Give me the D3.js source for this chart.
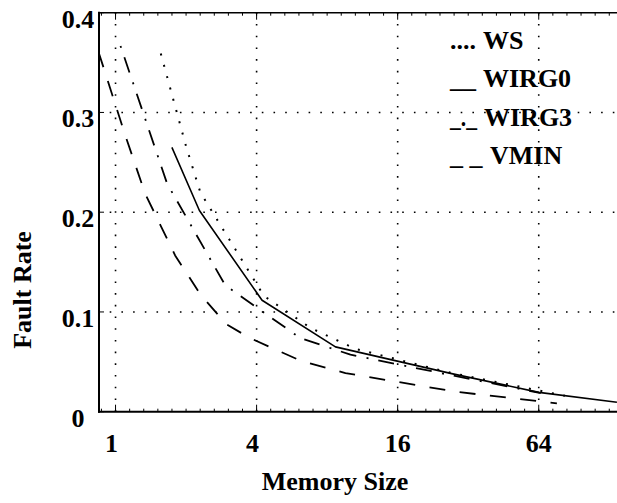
<!DOCTYPE html>
<html><head><meta charset="utf-8">
<script src="https://cdn.jsdelivr.net/npm/d3@7"></script>
<style>
html,body{margin:0;padding:0;background:#fff;}
text{font-family:"Liberation Serif","Times New Roman",serif;font-weight:bold;fill:#000;}
</style></head>
<body><svg id="c" width="617" height="503"></svg>
<script>
// ---- data ----
const seriesNames = ["WS", "WIRG0", "WIRG3", "VMIN"];
const legendSymbols = ["....", "__", "_._", "_ _"];
const wsX = [1.56, 2.0, 2.30, 4.30, 6.79, 10.57, 26.9, 82.8];
const wsY = [0.359, 0.266, 0.220, 0.116, 0.084, 0.063, 0.039, 0.016];
const wirg0X = [1.74, 2.28, 4.22, 8.68, 26.9, 64.1, 138];
const wirg0Y = [0.265, 0.2017, 0.1117, 0.065, 0.0384, 0.0194, 0.0094];
const wirg3X = [1.05, 1.66, 2.94, 6.15, 10.06, 26.9, 65.3];
const wirg3Y = [0.3667, 0.2287, 0.1267, 0.0737, 0.0572, 0.0367, 0.0187];
const vminX = [0.846, 1.098, 1.337, 1.796, 2.30, 2.968, 3.76, 6.15, 9.58, 28.3, 76.5];
const vminY = [0.3607, 0.2777, 0.2187, 0.1567, 0.1177, 0.0877, 0.0737, 0.0512, 0.0387, 0.020, 0.0084];
const xTicks = [1, 4, 16, 64];
const yTicks = [0, 0.1, 0.2, 0.3, 0.4];
const yTickLabels = ["0", "0.1", "0.2", "0.3", "0.4"];
const xDomain = [0.8417, 138.1];
const yDomain = [0, 0.4];

// ---- layout ----
const L = 98, R = 617, T = 12.7, B = 411.7;
const FS = 26;
const svg = d3.select("#c");
const x = d3.scaleLog().base(2).domain(xDomain).range([L, R]);
const y = d3.scaleLinear().domain(yDomain).range([B, T]);

// grid
const grid = svg.append("g").attr("stroke", "#000").attr("stroke-width", 1.6)
  .attr("stroke-dasharray", "1.6 10.1").attr("fill", "none");
xTicks.forEach(v => grid.append("line").attr("x1", x(v)).attr("x2", x(v)).attr("y1", B).attr("y2", T));
yTicks.filter(v => v > 0 && v < 0.4).forEach(v => grid.append("line").attr("x1", L).attr("x2", R).attr("y1", y(v)).attr("y2", y(v)));

// minor ticks on top and bottom
const minor = d3.range(Math.log2(xDomain[0]), Math.log2(xDomain[1]), 0.2).map(e => Math.pow(2, Math.round(e*5)/5));
const tk = svg.append("g").attr("stroke", "#000").attr("stroke-width", 1);
minor.forEach(v => {
  if (x(v) <= L + 2) return;
  tk.append("line").attr("x1", x(v)).attr("x2", x(v)).attr("y1", B).attr("y2", B - 3);
  tk.append("line").attr("x1", x(v)).attr("x2", x(v)).attr("y1", T).attr("y2", T + 3);
});
xTicks.forEach(v => {
  tk.append("line").attr("x1", x(v)).attr("x2", x(v)).attr("y1", B).attr("y2", B - 7);
  tk.append("line").attr("x1", x(v)).attr("x2", x(v)).attr("y1", T).attr("y2", T + 7);
});
yTicks.forEach(v => tk.append("line").attr("x1", L).attr("x2", L + 6).attr("y1", y(v)).attr("y2", y(v)));

// axes frame
svg.append("line").attr("x1", L + 1).attr("x2", L + 1).attr("y1", T - 1).attr("y2", B + 1).attr("stroke", "#000").attr("stroke-width", 2);
svg.append("line").attr("x1", L).attr("x2", R).attr("y1", B).attr("y2", B).attr("stroke", "#000").attr("stroke-width", 2);
svg.append("line").attr("x1", L).attr("x2", R).attr("y1", T).attr("y2", T).attr("stroke", "#000").attr("stroke-width", 1.6);

// series
const line = d3.line().x(d => x(d[0])).y(d => y(d[1]));
const defs = svg.append("defs");
defs.append("clipPath").attr("id", "clip").append("rect").attr("x", L).attr("y", T).attr("width", R - L).attr("height", B - T);
const plot = svg.append("g").attr("clip-path", "url(#clip)").attr("fill", "none").attr("stroke", "#000");
const series = [
  {xs: wsX, ys: wsY, dash: "2 9.7", w: 2},
  {xs: wirg0X, ys: wirg0Y, dash: null, w: 1.6},
  {xs: wirg3X, ys: wirg3Y, dash: "2 10 16 10.5", w: 1.8},
  {xs: vminX, ys: vminY, dash: "16 14.5", w: 1.8}
];
series.forEach(s => {
  const p = plot.append("path").attr("d", line(s.xs.map((v, i) => [v, s.ys[i]])))
    .attr("stroke-width", s.w).attr("stroke-linejoin", "round");
  if (s.dash) p.attr("stroke-dasharray", s.dash);
});

// tick labels
xTicks.forEach(v => {
  const s = String(v);
  svg.append("text").attr("x", x(v) - (s.length === 1 ? 4 : 0)).attr("y", 452).attr("text-anchor", "middle")
    .attr("font-size", FS).text(s);
});
yTicks.forEach((v, i) => svg.append("text").attr("x", 78).attr("y", y(v) + 15).attr("text-anchor", "middle")
  .attr("font-size", FS).text(yTickLabels[i]));

// axis titles
svg.append("text").attr("x", 335).attr("y", 490).attr("text-anchor", "middle").attr("font-size", FS).text("Memory Size");
svg.append("text").attr("transform", "translate(31,290) rotate(-90)").attr("text-anchor", "middle").attr("font-size", FS).text("Fault Rate");

// legend
const lg = svg.append("g");
const nameX = [483, 483, 484, 490];
seriesNames.forEach((n, i) => {
  const yy = 48.5 + i * 38.5;
  const sym = lg.append("text").attr("x", 450).attr("y", yy).attr("font-size", FS).text(legendSymbols[i]);
  if (legendSymbols[i] === "_._") sym.attr("textLength", 27).attr("lengthAdjust", "spacingAndGlyphs");
  lg.append("text").attr("x", nameX[i]).attr("y", yy).attr("font-size", FS).text(n);
});
</script></body></html>
